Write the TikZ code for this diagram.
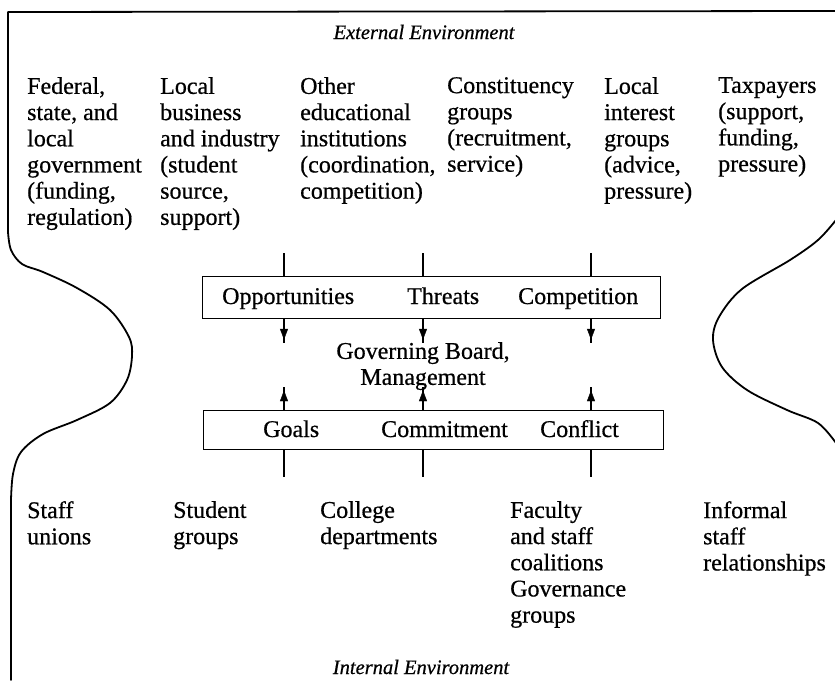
\documentclass[tikz,border=0pt]{standalone}
\usepackage{fontspec}
\setmainfont[FakeBold=0.6]{Liberation Serif}
\begin{document}
\begin{tikzpicture}[x=1pt,y=-1pt,
  outline/.style={line width=1.8pt,line join=round,line cap=round},
  lbl/.style={anchor=north west,inner sep=0pt,align=left,font=\fontsize{24}{26.2}\selectfont},
  envlbl/.style={inner sep=0pt,font=\fontsize{20.5}{22}\selectfont\itshape},
  boxitem/.style={anchor=base west,inner sep=0pt,font=\fontsize{24}{26}\selectfont},
  bar/.style={draw,line width=1.4pt,minimum width=458pt,inner sep=0pt,anchor=north west},
  conn/.style={line width=1.3pt},
  head/.style={fill=black,draw=black,line width=0.4pt,line join=miter}]
\useasboundingbox (0,0) rectangle (835,680);
% outline
\draw[outline] (835,11) -- (8,12) -- (8,232);
\draw[outline] plot[smooth,tension=0.55] coordinates {(8,232) (11,250) (22,264) (43,272) (77,288) (110,310) (129,337) (132,356) (127,380) (110,403) (77,420) (43,434) (21,452) (13,474) (11,500)};
\draw[outline] (11,500) -- (11,680);
\draw[outline] plot[smooth,tension=0.55] coordinates {(836,220) (818,240) (790,260) (742,289) (719,317) (713,340) (722,367) (747,390) (787,410) (818,423) (836,443)};
% environment labels
\node[envlbl] (ext) at (424,32) {External Environment};
\node[envlbl] (int) at (421,667) {Internal Environment};
% external groups
\node[lbl] (fed) at (27,77) {Federal,\\state, and\\local\\government\\(funding,\\regulation)};
\node[lbl] (bus) at (160,77) {Local\\business\\and industry\\(student\\source,\\support)};
\node[lbl] (edu) at (300,77) {Other\\educational\\institutions\\(coordination,\\competition)};
\node[lbl] (con) at (447,77) {Constituency\\groups\\(recruitment,\\service)};
\node[lbl] (lig) at (604,77) {Local\\interest\\groups\\(advice,\\pressure)};
\node[lbl] (tax) at (718,77) {Taxpayers\\(support,\\funding,\\pressure)};
% box 1
\node[bar,minimum height=42pt] (box1) at (202,276) {};
\node[boxitem] (opp) at (222,304) {Opportunities};
\node[boxitem] (thr) at (407,304) {Threats};
\node[boxitem] (com) at (518,304) {Competition};
% governing board
\node[inner sep=0pt,align=center,font=\fontsize{24}{26}\selectfont,anchor=north] (gov) at (423,342) {Governing Board,\\Management};
% box 2
\node[bar,minimum height=39pt,minimum width=460pt] (box2) at (203,410) {};
\node[boxitem] (goa) at (263,437) {Goals};
\node[boxitem] (cmt) at (381,437) {Commitment};
\node[boxitem] (cfl) at (540,437) {Conflict};
% internal groups
\node[lbl] (uni) at (27,501) {Staff\\unions};
\node[lbl] (stu) at (173,501) {Student\\groups};
\node[lbl] (dep) at (320,501) {College\\departments};
\node[lbl] (fac) at (510,501) {Faculty\\and staff\\coalitions\\Governance\\groups};
\node[lbl] (inf) at (703,501) {Informal\\staff\\relationships};
% connectors
\foreach \x/\n in {284/a,423/b,591/c}{
  \coordinate (t\n) at (\x,253);
  \coordinate (u\n) at (\x,276);
  \coordinate (v\n) at (\x,318);
  \coordinate (w\n) at (\x,339);
  \coordinate (p\n) at (\x,391);
  \coordinate (q\n) at (\x,410);
  \coordinate (r\n) at (\x,449);
  \coordinate (s\n) at (\x,477);
  \draw[conn] (t\n) -- (u\n);
  \draw[conn] (v\n) -- ([yshift=-4pt]w\n);
  \fill[head] (w\n) -- ++(-3.8,-10) -- ++(7.6,0) -- cycle;
  \draw[conn] (q\n) -- ([yshift=4pt]p\n);
  \fill[head] (p\n) -- ++(-3.8,10) -- ++(7.6,0) -- cycle;
  \draw[conn] (r\n) -- (s\n);
}
\end{tikzpicture}
\end{document}
